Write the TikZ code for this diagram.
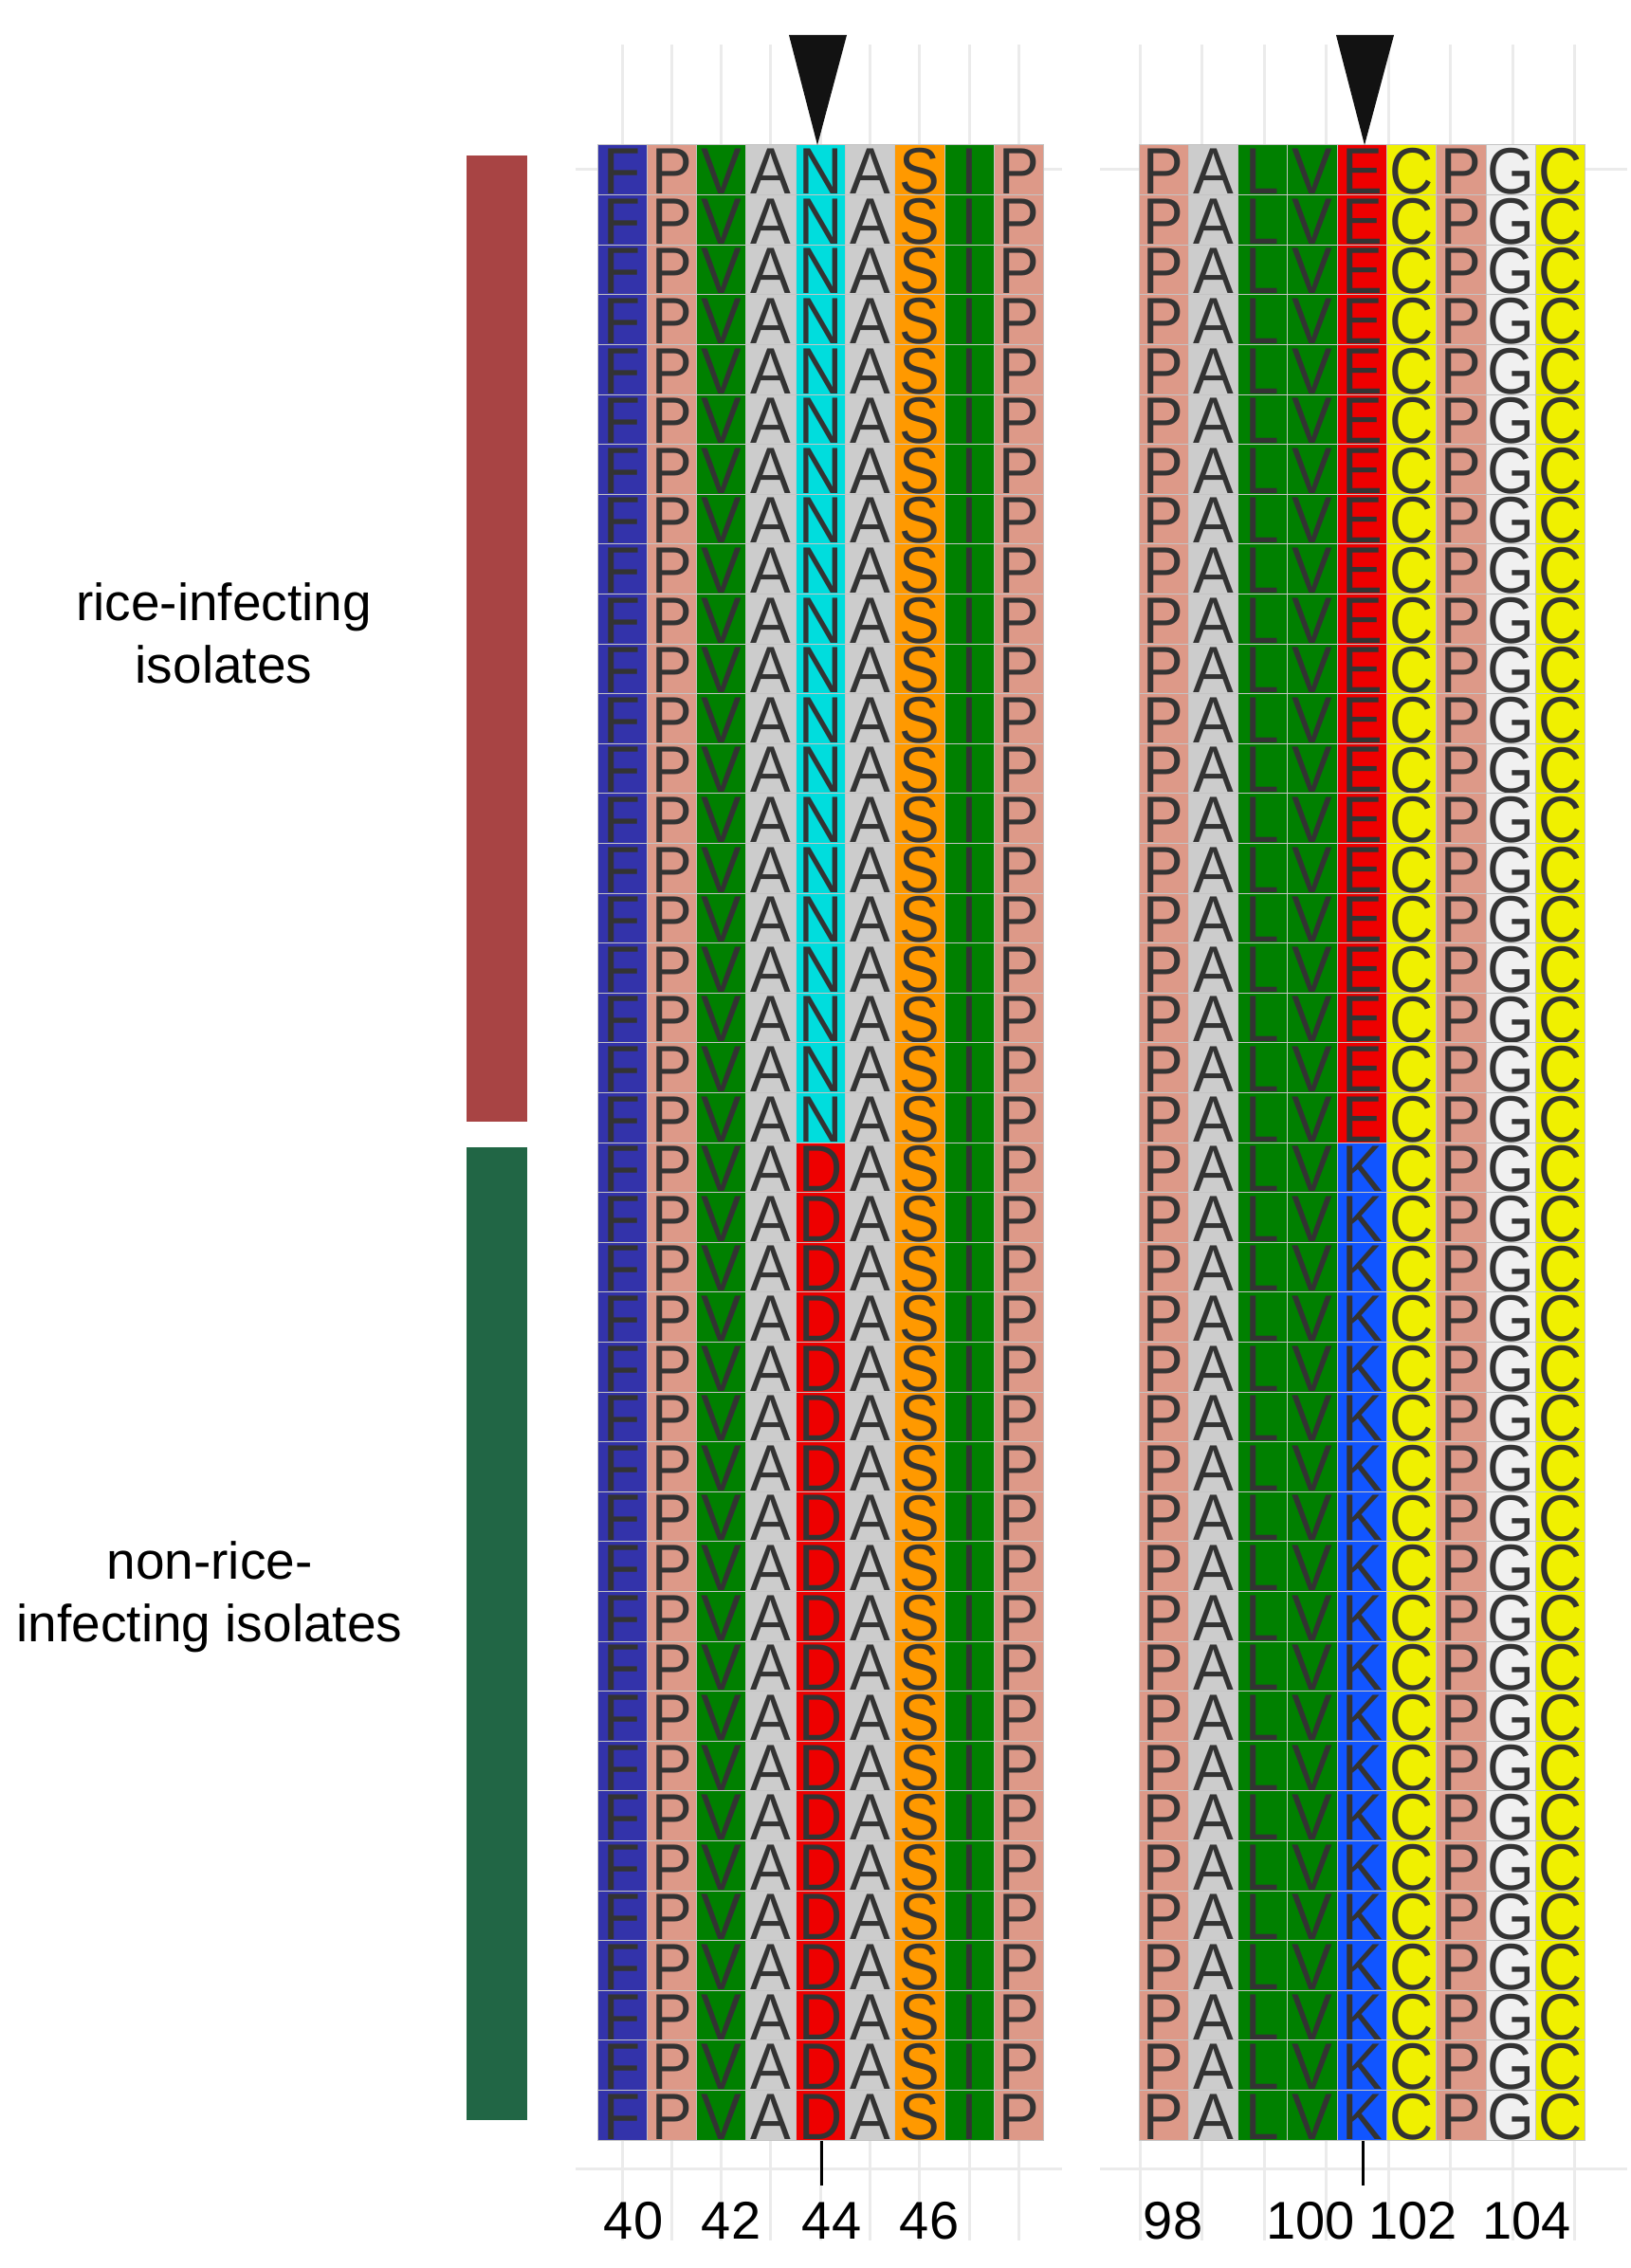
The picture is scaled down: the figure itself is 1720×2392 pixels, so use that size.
\documentclass[tikz,border=0pt]{standalone}
\usepackage{fontspec}
\setmainfont{Liberation Sans}
\begin{document}
\begin{tikzpicture}[x=1pt,y=-1pt,
  grid/.style={draw=gridgray,line width=3pt},
  cell/.style={draw=cellline,line width=1pt},
  aa/.style={font=\fontsize{64}{64}\selectfont,text=aatext,inner sep=0pt,yscale=1.08},
  tick/.style={font=\fontsize{56}{56}\selectfont,inner sep=0pt},
  lab/.style={font=\fontsize{55}{66}\selectfont,align=center}]
\definecolor{gridgray}{HTML}{EBEBEB}
\definecolor{cellline}{HTML}{C4C4C4}
\definecolor{aatext}{HTML}{333333}
\definecolor{cF}{HTML}{3333AA}
\definecolor{cP}{HTML}{DD9988}
\definecolor{cV}{HTML}{008000}
\definecolor{cA}{HTML}{CCCCCC}
\definecolor{cN}{HTML}{00DDDD}
\definecolor{cS}{HTML}{FF9900}
\definecolor{cD}{HTML}{EE0000}
\definecolor{cK}{HTML}{1155FF}
\definecolor{cC}{HTML}{F0F000}
\definecolor{cG}{HTML}{F0F0F0}
\definecolor{barred}{HTML}{A84444}
\definecolor{bargreen}{HTML}{216645}
\useasboundingbox (0,0) rectangle (1720,2392);
\fill[white] (0,0) rectangle (1720,2392);
% background grid
\foreach \k in {0,...,8} \draw[grid] (656+52.3*\k,47) -- (656+52.3*\k,2363);
\foreach \k in {0,...,7} \draw[grid] (1202+65.5*\k,47) -- (1202+65.5*\k,2363);
\draw[grid] (607,179) -- (1120,179);
\draw[grid] (1160,179) -- (1716,179);
\draw[grid] (607,2287) -- (1120,2287);
\draw[grid] (1160,2287) -- (1716,2287);
% alignment
\foreach \r in {0,...,39}{
  \pgfmathtruncatemacro{\grp}{\r<20?0:1}
  \foreach \L [count=\c from 0] in {F,P,V,A,X,A,S,I,P}{
    \if\L X
      \ifnum\grp=0 \def\LL{N}\def\cc{cN}\else \def\LL{D}\def\cc{cD}\fi
    \else
      \let\LL\L
      \if\L I \def\cc{cV}\else \edef\cc{c\L}\fi
    \fi
    \draw[cell,fill=\cc] (630+52.3*\c,153+52.6*\r) rectangle ++(52.3,52.6);
    \node[aa] (l\r c\c) at (630+52.3*\c+26.15,153+52.6*\r+28) {\LL};
  }
  \foreach \L [count=\c from 0] in {P,A,L,V,X,C,P,G,C}{
    \if\L X
      \ifnum\grp=0 \def\LL{E}\def\cc{cD}\else \def\LL{K}\def\cc{cK}\fi
    \else
      \let\LL\L
      \if\L L \def\cc{cV}\else \edef\cc{c\L}\fi
    \fi
    \draw[cell,fill=\cc] (1201+52.3*\c,153+52.6*\r) rectangle ++(52.3,52.6);
    \node[aa] (r\r c\c) at (1201+52.3*\c+26.15,153+52.6*\r+28) {\LL};
  }
}
% markers
\fill[black!93] (832,37) -- (893,37) -- (862,153) -- cycle;
\fill[black!93] (1409,37) -- (1470,37) -- (1439,153) -- cycle;
\coordinate (t1) at (866,2305);
\coordinate (t2) at (1437,2305);
\draw[line width=3pt] (866,2258) -- (t1);
\draw[line width=3pt] (1437,2258) -- (t2);
% tick labels
\node[tick] (x40) at (668,2342) {40};
\node[tick] (x42) at (771,2342) {42};
\node[tick] (x44) at (877,2342) {44};
\node[tick] (x46) at (980,2342) {46};
\node[tick] (x98) at (1237,2342) {98};
\node[tick] (x100) at (1382,2342) {100};
\node[tick] (x102) at (1490,2342) {102};
\node[tick] (x104) at (1610,2342) {104};
% group bars
\fill[barred] (492,164) rectangle (556,1183);
\fill[bargreen] (492,1210) rectangle (556,2236);
\node[lab] (g1) at (236,668) {rice-infecting\\isolates};
\node[lab] (g2) at (221,1684) {non-rice-\\infecting isolates};
\end{tikzpicture}
\end{document}
